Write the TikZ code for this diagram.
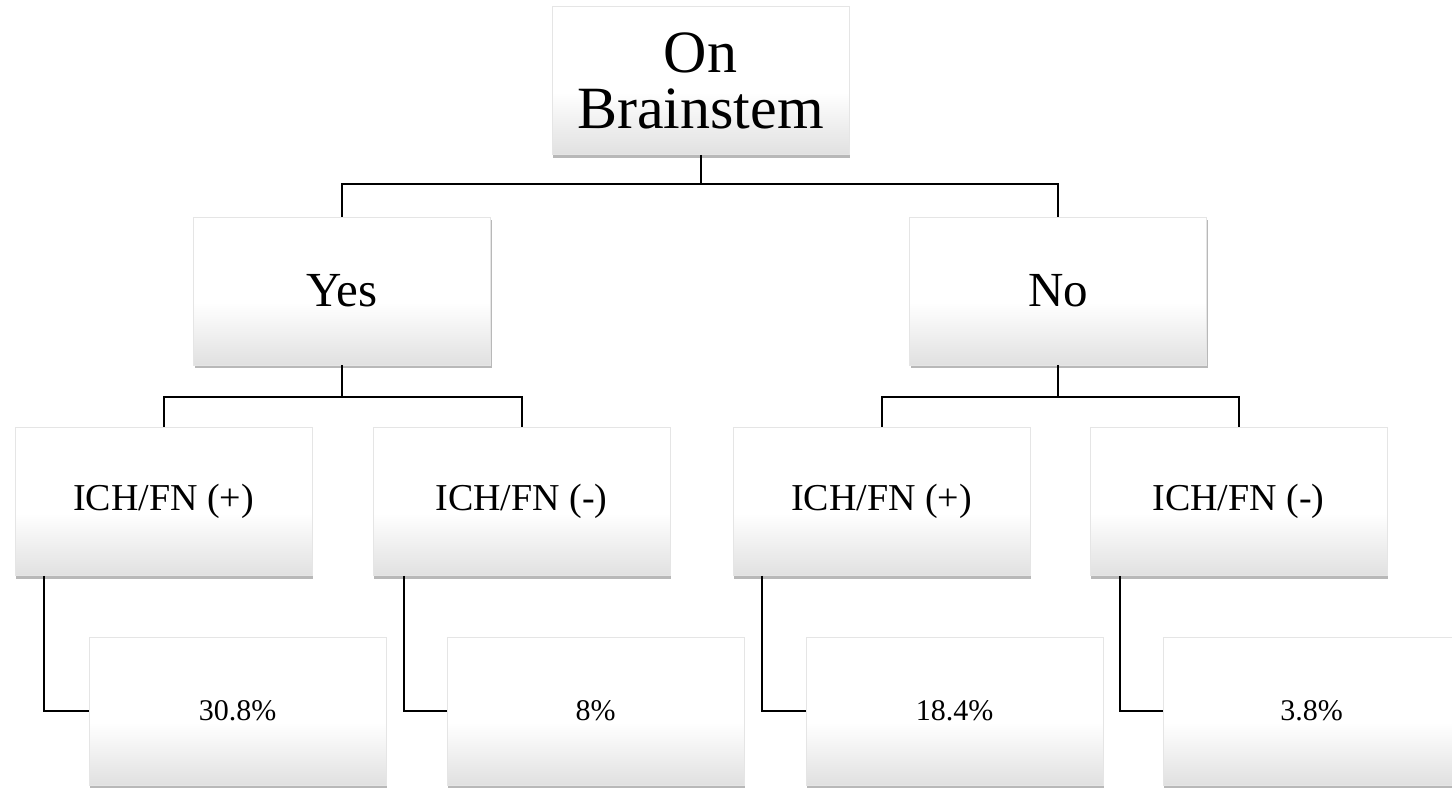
\documentclass[tikz,border=0pt]{standalone}
\usepackage{fontspec}
\setmainfont{Liberation Serif}
\usetikzlibrary{shadows,calc}
\pgfdeclareverticalshading{boxshade}{100bp}{color(0bp)=(black!12); color(25bp)=(black!12); color(46bp)=(white); color(100bp)=(white)}
\tikzset{
  box/.style={rectangle, minimum width=297pt, minimum height=148pt, inner sep=0pt,
    shading=boxshade, draw=black!10, line width=0.8pt,
    drop shadow={shadow xshift=1pt, shadow yshift=-3pt, fill=black, opacity=0.28},
    align=center, text=black},
  conn/.style={draw=black, line width=2pt}
}
\begin{document}
\begin{tikzpicture}[x=1pt,y=-1pt]
\useasboundingbox (0,0) rectangle (1452,788);
\fill[white] (0,0) rectangle (1452,788);
% nodes
\node[box, font=\fontsize{60}{56}\selectfont] (top) at (700.5,80.5) {On\\Brainstem};
\node[box, font=\fontsize{49}{55}\selectfont] (yes) at (342,291) {Yes};
\node[box, font=\fontsize{49}{55}\selectfont] (no) at (1058,291) {No};
\node[box, font=\fontsize{38}{44}\selectfont] (ya) at (163.5,501.5) {ICH/FN (+)};
\node[box, font=\fontsize{38}{44}\selectfont] (yb) at (521.5,501.5) {ICH/FN (-)};
\node[box, font=\fontsize{38}{44}\selectfont] (na) at (881.5,501.5) {ICH/FN (+)};
\node[box, font=\fontsize{38}{44}\selectfont] (nb) at (1238.5,501.5) {ICH/FN (-)};
\node[box, font=\fontsize{30}{36}\selectfont] (ra) at (237.5,711) {30.8\%};
\node[box, font=\fontsize{30}{36}\selectfont] (rb) at (595.5,711) {8\%};
\node[box, font=\fontsize{30}{36}\selectfont] (rc) at (954.5,711) {18.4\%};
\node[box, font=\fontsize{30}{36}\selectfont] (rd) at (1311.5,711) {3.8\%};
% bus coordinates
\coordinate (bus1) at (700.5,184);
\coordinate (bus2) at (342,397);
\coordinate (bus3) at (1058,397);
% connectors
\draw[conn] (top.south) -- (bus1);
\draw[conn] (bus1) -| (yes.north);
\draw[conn] (bus1) -| (no.north);
\draw[conn] (yes.south) -- (bus2);
\draw[conn] (bus2) -| (ya.north);
\draw[conn] (bus2) -| (yb.north);
\draw[conn] (no.south) -- (bus3);
\draw[conn] (bus3) -| (na.north);
\draw[conn] (bus3) -| (nb.north);
\draw[conn] ($(ya.south west)+(29,0)$) |- (ra.west);
\draw[conn] ($(yb.south west)+(31,0)$) |- (rb.west);
\draw[conn] ($(na.south west)+(29,0)$) |- (rc.west);
\draw[conn] ($(nb.south west)+(30,0)$) |- (rd.west);
\end{tikzpicture}
\end{document}
